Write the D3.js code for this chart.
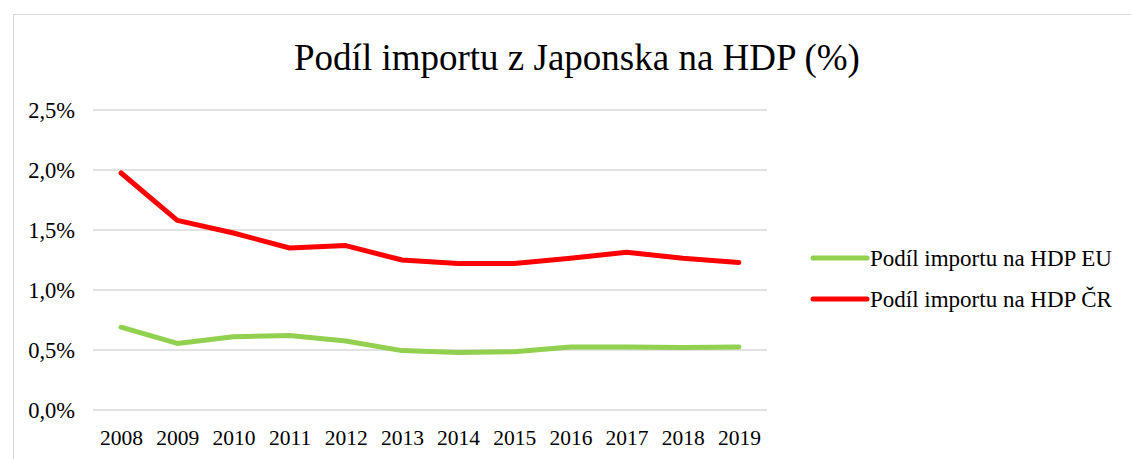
<!DOCTYPE html>
<html>
<head>
<meta charset="utf-8">
<script src="https://cdn.jsdelivr.net/npm/d3@7"></script>
<style>
  body { margin: 0; background: #fff; }
  text { font-family: "Liberation Serif", "Times New Roman", serif; fill: #000; }
</style>
</head>
<body>
<svg id="chart" width="1131" height="459"></svg>
<script>
const years = ["2008", "2009", "2010", "2011", "2012", "2013", "2014", "2015", "2016", "2017", "2018", "2019"];
const euShare = [0.69, 0.555, 0.61, 0.62, 0.575, 0.495, 0.48, 0.485, 0.525, 0.525, 0.52, 0.525];
const czShare = [1.975, 1.58, 1.475, 1.35, 1.37, 1.25, 1.22, 1.22, 1.265, 1.315, 1.265, 1.23];
const yTicks = [0, 0.5, 1.0, 1.5, 2.0, 2.5];
const seriesNames = ["Podíl importu na HDP EU", "Podíl importu na HDP ČR"];
const seriesColors = ["#92d050", "#ff0000"];

const svg = d3.select("#chart");
const margin = { left: 93, right: 364, top: 110, bottom: 49 };
const width = 1131, height = 459;

// outer chart frame
svg.append("rect")
    .attr("x", 13.5).attr("y", 14.5)
    .attr("width", width).attr("height", height)
    .attr("fill", "none").attr("stroke", "#d9d9d9").attr("stroke-width", 1);

svg.append("text")
    .attr("x", 577).attr("y", 70)
    .attr("text-anchor", "middle")
    .attr("font-size", 37)
    .text("Podíl importu z Japonska na HDP (%)");

const x = d3.scalePoint().domain(years)
    .range([margin.left, width - margin.right]).padding(0.5);
const y = d3.scaleLinear().domain([0, 2.5])
    .range([height - margin.bottom, margin.top]);

// gridlines
svg.append("g").selectAll("line")
    .data(yTicks).enter().append("line")
    .attr("x1", margin.left).attr("x2", width - margin.right)
    .attr("y1", d => y(d)).attr("y2", d => y(d))
    .attr("stroke", "#d9d9d9").attr("stroke-width", 1.5);

const fmt = d => d.toFixed(1).replace(".", ",") + "%";
const yAxis = svg.append("g")
    .attr("transform", `translate(${margin.left - 18},0)`)
    .call(d3.axisLeft(y).tickValues(yTicks).tickFormat(fmt).tickSize(0).tickPadding(0));
yAxis.select(".domain").remove();
yAxis.selectAll("text").attr("font-size", 22.5).attr("font-family", "Liberation Serif").attr("dy", "0.35em");

const xAxis = svg.append("g")
    .attr("transform", `translate(0,${height - margin.bottom})`)
    .call(d3.axisBottom(x).tickSize(0).tickPadding(20));
xAxis.select(".domain").remove();
xAxis.selectAll("text").attr("font-size", 21.5).attr("font-family", "Liberation Serif");

const line = d3.line().x((d, i) => x(years[i])).y(d => y(d));
[euShare, czShare].forEach((vals, i) => {
    svg.append("path")
        .datum(vals)
        .attr("d", line)
        .attr("fill", "none")
        .attr("stroke", seriesColors[i])
        .attr("stroke-width", 5)
        .attr("stroke-linecap", "round")
        .attr("stroke-linejoin", "round");
});

// legend
const legend = svg.append("g").selectAll("g")
    .data(seriesNames).enter().append("g")
    .attr("transform", (d, i) => `translate(813,${258 + i * 41})`);
legend.append("line")
    .attr("x1", 0).attr("x2", 54)
    .attr("stroke", (d, i) => seriesColors[i])
    .attr("stroke-width", 5).attr("stroke-linecap", "round");
legend.append("text")
    .attr("x", 57).attr("dy", "0.35em")
    .attr("font-size", 23)
    .text(d => d);
</script>
</body>
</html>
